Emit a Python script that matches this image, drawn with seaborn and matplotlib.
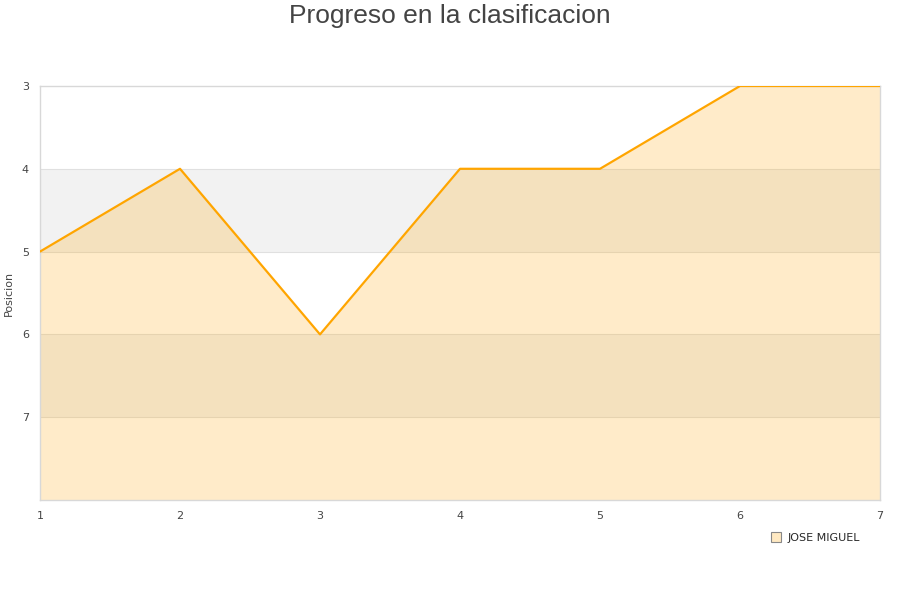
import matplotlib
matplotlib.use("Agg")
import matplotlib.pyplot as plt
import seaborn as sns
import pandas as pd
from matplotlib.lines import Line2D

jornadas = [1, 2, 3, 4, 5, 6, 7]
posicion = [5, 4, 6, 4, 4, 3, 3]
y_ticks = [3, 4, 5, 6, 7]
serie = "JOSE MIGUEL"

sns.set_theme(style="white")
plt.rcParams['font.family'] = ['DejaVu Sans']

df = pd.DataFrame({"Jornada": jornadas, "Posicion": posicion})

fig = plt.figure(figsize=(9, 6), dpi=100)
ax = fig.add_axes([40/900, 1 - 500/600, 840/900, 414/600])

# alternating bands
for lo in [4, 6]:
    ax.axhspan(lo, lo + 1, color="#f2f2f2", zorder=0, lw=0)
for yv in [4, 5, 6, 7]:
    ax.axhline(yv, color="#e0e0e0", lw=0.8, zorder=0.5)

ax.fill_between(df["Jornada"], df["Posicion"], 8, color="#ffa500", alpha=0.21, zorder=1, lw=0)
sns.lineplot(data=df, x="Jornada", y="Posicion", ax=ax, color="#ffa500", lw=1.6, zorder=3)

ax.set_xlim(1, 7)
ax.set_ylim(8, 3)
ax.set_yticks(y_ticks)
ax.set_xticks(jornadas)
ax.tick_params(axis="both", labelsize=8, colors="#444444", length=0, pad=8)
ax.set_xlabel("")
ax.set_ylabel("Posicion", fontsize=8, color="#444444")
ax.yaxis.set_label_coords(-31/840, 0.5)
ax.yaxis.label.set_va("center")
for s in ax.spines.values():
    s.set_color("#d8d8d8")
    s.set_linewidth(1)

fig.text(0.5, 1 - 16/600, "Progreso en la clasificacion", ha="center", va="center",
         fontsize=19, color="#444444", family=["Liberation Sans", "DejaVu Sans"])

handle = Line2D([0], [0], marker="s", linestyle="none", markersize=7,
                markerfacecolor="#ffe9c2", markeredgecolor="#888888", markeredgewidth=0.8)
fig.legend([handle], [serie], loc="center", bbox_to_anchor=(815/900, 1 - 538/600),
           frameon=False, fontsize=8, handletextpad=0.5, borderpad=0, handlelength=1)

fig.savefig("out.png", dpi=100)
